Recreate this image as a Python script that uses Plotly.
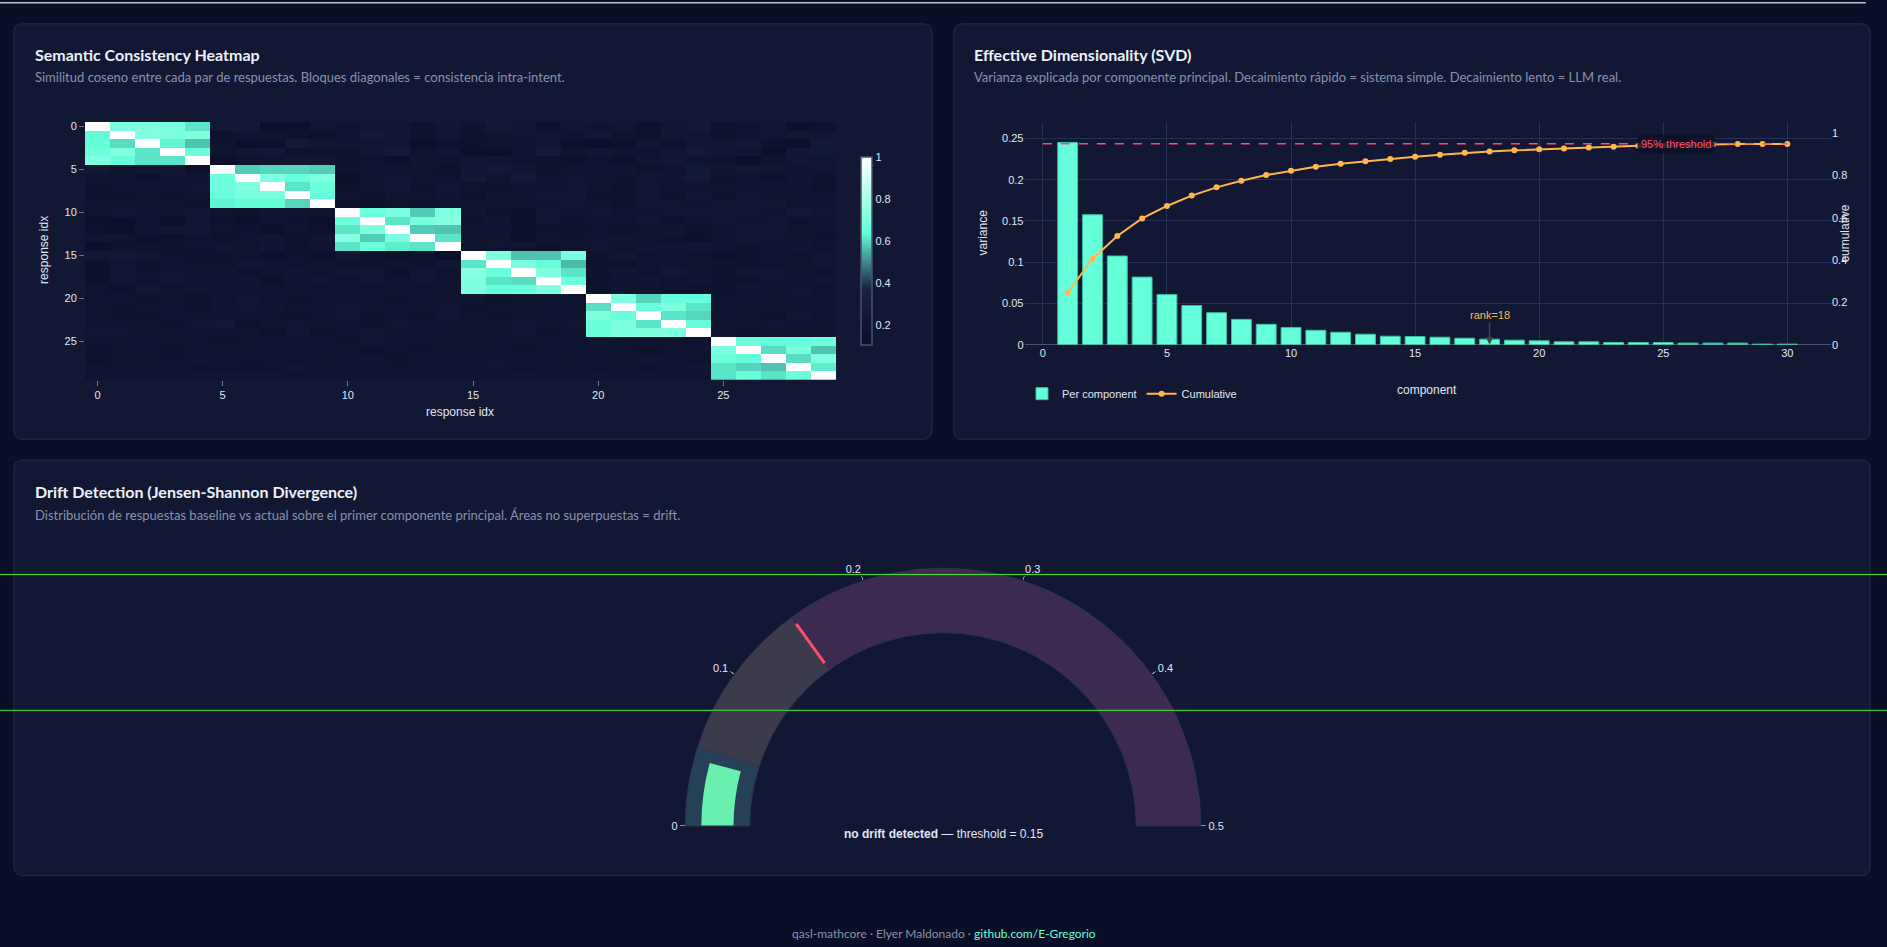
import plotly.graph_objects as go

W, H = 1887, 947


def px(x):
    return x / W


def py(y):
    return 1 - y / H


# ---------------- data ----------------
resp_idx = list(range(30))
heat_ticks = [0, 5, 10, 15, 20, 25]

similarity = [
    [1.0, .70, .70, .69, .61, .24, .25, .13, .14, .20, .19, .22, .20, .16, .22, .17, .24, .21, .15, .22, .19, .20, .15, .22, .24, .16, .17, .22, .14, .16],
    [.64, 1.0, .71, .69, .71, .16, .19, .17, .15, .14, .21, .24, .22, .18, .21, .16, .17, .21, .20, .19, .23, .16, .15, .22, .20, .16, .18, .21, .23, .22],
    [.64, .60, 1.0, .63, .57, .17, .13, .14, .24, .20, .19, .21, .22, .13, .16, .15, .18, .19, .22, .15, .13, .14, .20, .16, .22, .22, .23, .15, .14, .24],
    [.66, .71, .61, 1.0, .66, .18, .21, .23, .16, .15, .16, .22, .25, .17, .21, .14, .13, .18, .25, .17, .22, .19, .18, .22, .24, .21, .20, .13, .23, .24],
    [.70, .65, .61, .61, 1.0, .13, .16, .18, .20, .21, .15, .17, .14, .19, .18, .20, .21, .17, .16, .15, .18, .14, .19, .22, .17, .16, .13, .17, .22, .21],
    [.23, .19, .22, .21, .14, 1.0, .58, .59, .59, .58, .16, .18, .19, .17, .15, .22, .24, .20, .16, .18, .19, .21, .16, .18, .24, .19, .22, .21, .18, .20],
    [.18, .17, .15, .20, .19, .66, 1.0, .70, .66, .71, .13, .20, .21, .17, .18, .24, .19, .25, .17, .20, .19, .18, .21, .20, .24, .16, .17, .15, .20, .16],
    [.16, .18, .21, .18, .20, .67, .70, 1.0, .61, .66, .15, .17, .22, .16, .20, .17, .16, .21, .18, .20, .17, .15, .20, .18, .19, .17, .18, .21, .18, .15],
    [.15, .16, .18, .16, .20, .65, .69, .69, 1.0, .64, .19, .15, .21, .18, .20, .15, .21, .17, .22, .20, .16, .15, .21, .16, .22, .16, .20, .17, .19, .18],
    [.19, .18, .17, .18, .16, .63, .64, .64, .59, 1.0, .16, .14, .17, .16, .18, .18, .17, .19, .19, .20, .17, .15, .20, .21, .18, .21, .20, .22, .17, .18],
    [.17, .20, .19, .17, .22, .18, .16, .19, .18, .17, 1.0, .66, .69, .58, .70, .19, .15, .13, .20, .18, .21, .18, .19, .21, .20, .22, .21, .19, .23, .20],
    [.14, .13, .18, .13, .21, .15, .13, .18, .16, .13, .67, 1.0, .61, .69, .72, .16, .21, .14, .22, .16, .19, .17, .21, .15, .19, .21, .17, .21, .16, .18],
    [.15, .13, .18, .20, .22, .17, .18, .13, .17, .15, .61, .70, 1.0, .58, .57, .20, .18, .14, .16, .15, .18, .16, .17, .21, .16, .19, .22, .20, .17, .19],
    [.20, .19, .14, .14, .17, .15, .18, .19, .16, .21, .72, .58, .69, 1.0, .61, .17, .20, .13, .19, .17, .20, .21, .18, .16, .14, .19, .22, .20, .19, .16],
    [.13, .16, .17, .16, .18, .19, .17, .20, .16, .19, .61, .65, .62, .61, 1.0, .18, .20, .19, .14, .17, .20, .17, .20, .21, .21, .20, .16, .19, .21, .18],
    [.22, .23, .21, .17, .16, .16, .18, .15, .17, .14, .20, .16, .15, .16, .13, 1.0, .70, .57, .57, .69, .18, .20, .17, .19, .18, .15, .18, .19, .18, .20],
    [.15, .21, .16, .19, .18, .17, .20, .19, .18, .18, .17, .17, .17, .18, .20, .61, 1.0, .69, .65, .56, .16, .15, .18, .19, .17, .17, .16, .18, .17, .20],
    [.14, .22, .18, .20, .17, .19, .16, .18, .20, .17, .20, .20, .15, .21, .18, .72, .66, 1.0, .70, .61, .17, .20, .18, .22, .19, .16, .21, .20, .18, .17],
    [.15, .21, .19, .21, .19, .18, .20, .15, .19, .20, .18, .21, .18, .20, .19, .70, .61, .60, 1.0, .66, .16, .19, .20, .18, .20, .18, .17, .21, .19, .20],
    [.17, .15, .22, .18, .19, .18, .19, .18, .17, .18, .17, .18, .19, .18, .17, .71, .65, .65, .71, 1.0, .17, .19, .19, .18, .17, .16, .20, .19, .21, .18],
    [.18, .19, .16, .17, .15, .18, .20, .18, .16, .18, .19, .18, .16, .19, .17, .21, .16, .17, .18, .20, 1.0, .70, .59, .65, .65, .19, .18, .17, .20, .19],
    [.18, .16, .17, .20, .16, .20, .21, .20, .18, .19, .21, .19, .18, .19, .20, .16, .18, .17, .19, .18, .60, 1.0, .66, .70, .61, .19, .17, .20, .17, .19],
    [.17, .16, .16, .18, .17, .18, .19, .17, .16, .19, .21, .16, .18, .16, .20, .18, .16, .17, .18, .19, .70, .65, 1.0, .61, .59, .18, .19, .16, .20, .18],
    [.18, .18, .17, .16, .21, .23, .15, .19, .21, .17, .18, .16, .20, .18, .17, .19, .17, .21, .18, .20, .66, .70, .61, 1.0, .65, .18, .17, .20, .18, .19],
    [.20, .20, .17, .18, .19, .18, .17, .15, .20, .16, .18, .21, .17, .19, .18, .17, .19, .20, .16, .19, .66, .70, .71, .70, 1.0, .17, .16, .19, .18, .17],
    [.18, .17, .19, .17, .18, .16, .17, .18, .19, .19, .16, .20, .18, .18, .17, .17, .18, .17, .19, .18, .19, .17, .19, .18, .16, 1.0, .66, .64, .65, .66],
    [.16, .18, .18, .15, .19, .18, .17, .20, .20, .19, .17, .15, .18, .16, .17, .18, .17, .16, .19, .18, .18, .17, .15, .18, .19, .70, 1.0, .60, .69, .57],
    [.15, .17, .17, .18, .20, .19, .18, .18, .18, .17, .18, .19, .16, .19, .18, .19, .20, .18, .18, .17, .18, .17, .20, .19, .18, .66, .64, 1.0, .60, .70],
    [.17, .17, .18, .19, .17, .17, .16, .18, .20, .18, .19, .17, .18, .19, .18, .17, .20, .17, .19, .18, .18, .19, .17, .18, .20, .61, .59, .57, 1.0, .62],
    [.18, .19, .18, .19, .20, .20, .19, .20, .18, .19, .19, .19, .18, .20, .19, .18, .19, .20, .18, .19, .20, .19, .20, .18, .19, .61, .66, .61, .66, 1.0],
]

components = list(range(1, 31))
variance = [0.2452, 0.1576, 0.1076, 0.0820, 0.0608, 0.0476, 0.0388, 0.0308, 0.0248, 0.0208,
            0.0176, 0.0152, 0.0128, 0.0104, 0.0100, 0.0092, 0.0080, 0.0068, 0.0056, 0.0048,
            0.0036, 0.0036, 0.0028, 0.0028, 0.0028, 0.0020, 0.0020, 0.0020, 0.0008, 0.0008]
cumulative = [0.246, 0.406, 0.514, 0.597, 0.656, 0.705, 0.744, 0.775, 0.802, 0.822,
              0.841, 0.855, 0.867, 0.878, 0.889, 0.898, 0.907, 0.914, 0.919, 0.924,
              0.928, 0.932, 0.936, 0.941, 0.942, 0.945, 0.947, 0.949, 0.949, 0.949]
var_threshold = 0.95
effective_rank = 18

js_divergence = 0.042
js_threshold = 0.15
gauge_bands = [0, 0.05, 0.15, 0.5]
gauge_ticks = [0, 0.1, 0.2, 0.3, 0.4, 0.5]

# ---------------- style ----------------
PAGE = "#0a0e27"
PANEL = "#121833"
BORDER = "#232c4e"
GRID = "#262f55"
TXT = "#e0e6f5"
SUB = "#8892b0"
TEAL = "#64ffda"
ORANGE = "#ffb74d"
RED = "#ff4d6d"
CHART_FONT = "Arial, 'Liberation Sans', sans-serif"
HTML_FONT = "Lato, 'Noto Sans', sans-serif"


def rounded_rect(x0, y0, x1, y1, r=9):
    X = lambda v: f"{px(v):.6f}"
    Y = lambda v: f"{py(v):.6f}"
    pts = [
        f"M {X(x0 + r)},{Y(y0)}",
        f"L {X(x1 - r)},{Y(y0)}",
        f"Q {X(x1)},{Y(y0)} {X(x1)},{Y(y0 + r)}",
        f"L {X(x1)},{Y(y1 - r)}",
        f"Q {X(x1)},{Y(y1)} {X(x1 - r)},{Y(y1)}",
        f"L {X(x0 + r)},{Y(y1)}",
        f"Q {X(x0)},{Y(y1)} {X(x0)},{Y(y1 - r)}",
        f"L {X(x0)},{Y(y0 + r)}",
        f"Q {X(x0)},{Y(y0)} {X(x0 + r)},{Y(y0)} Z",
    ]
    return " ".join(pts)


fig = go.Figure()

# Heatmap
fig.add_trace(go.Heatmap(
    z=similarity, x=resp_idx, y=resp_idx,
    colorscale=[[0, "#0a0e27"], [0.3, "#1a2342"], [0.6, TEAL], [1, "#ffffff"]],
    zmin=0.105, zmax=1,
    xaxis="x", yaxis="y",
    colorbar=dict(
        x=px(861), xanchor="left", y=py(251), yanchor="middle",
        len=188, lenmode="pixels", thickness=11, xpad=0, ypad=0,
        outlinewidth=1.5, outlinecolor="#4b5268",
        tickvals=[0.2, 0.4, 0.6, 0.8, 1], ticks="",
        tickfont=dict(size=11, color=TXT, family=CHART_FONT),
    ),
))

# SVD bars + cumulative
fig.add_trace(go.Bar(
    x=components, y=variance, name="Per component", width=0.8,
    marker=dict(color=TEAL, line=dict(color="#3fbf9f", width=1)),
    xaxis="x2", yaxis="y2",
))
fig.add_trace(go.Scatter(
    x=components, y=cumulative, name="Cumulative", mode="lines+markers",
    line=dict(color=ORANGE, width=2), marker=dict(size=6, color=ORANGE),
    xaxis="x2", yaxis="y3",
))

# Gauge
fig.add_trace(go.Indicator(
    mode="gauge", value=js_divergence,
    domain=dict(x=[px(643), px(1243)], y=[py(831), py(571)]),
    gauge=dict(
        shape="angular",
        axis=dict(range=[gauge_bands[0], gauge_bands[-1]], tickvals=gauge_ticks,
                  tickfont=dict(size=11, color=TXT, family=CHART_FONT),
                  tickcolor="#8892b0", ticklen=5, tickwidth=1),
        bar=dict(color="#69f0ae", thickness=0.5),
        bgcolor="rgba(0,0,0,0)", borderwidth=1, bordercolor="#2a3356",
        steps=[
            dict(range=[gauge_bands[0], gauge_bands[1]], color="#264057"),
            dict(range=[gauge_bands[1], gauge_bands[2]], color="#3c3a4d"),
            dict(range=[gauge_bands[2], gauge_bands[3]], color="#3c2a50"),
        ],
        threshold=dict(line=dict(color=RED, width=3), thickness=0.75, value=js_threshold),
    ),
))

shapes = [
    dict(type="path", path=rounded_rect(14, 22, 932, 441), xref="paper", yref="paper",
         fillcolor=PANEL, line=dict(color=BORDER, width=1), layer="below"),
    dict(type="path", path=rounded_rect(954, 22, 1870, 441), xref="paper", yref="paper",
         fillcolor=PANEL, line=dict(color=BORDER, width=1), layer="below"),
    dict(type="path", path=rounded_rect(14, 462, 1870, 881), xref="paper", yref="paper",
         fillcolor=PANEL, line=dict(color=BORDER, width=1), layer="below"),
    # 95% threshold line
    dict(type="line", xref="x2", yref="y3", x0=0, x1=30, y0=var_threshold, y1=var_threshold,
         line=dict(color=RED, width=1.5, dash="dash"), layer="above"),
    # overlay guide lines present in the reference
    dict(type="line", xref="paper", yref="paper", x0=0, x1=1, y0=py(577.3), y1=py(577.3),
         line=dict(color="#44ee22", width=1), layer="above"),
    dict(type="line", xref="paper", yref="paper", x0=0, x1=1, y0=py(714.3), y1=py(714.3),
         line=dict(color="#44ee22", width=1), layer="above"),
    dict(type="line", xref="paper", yref="paper", x0=0, x1=px(1866), y0=py(0.8), y1=py(0.8),
         line=dict(color="#b9bdc9", width=1.5), layer="above"),
]


def txt(x, y, text, size, color, bold=False, anchor="left", angle=0, family=HTML_FONT):
    return dict(x=px(x), y=py(y), xref="paper", yref="paper", text=text, showarrow=False,
                xanchor=anchor, yanchor="middle", textangle=angle,
                font=dict(size=size, color=color, family=family,
                          weight="bold" if bold else "normal"))


annotations = [
    txt(33, 53, "Semantic Consistency Heatmap", 16, "#eef1fa", bold=True),
    txt(33, 76, "Similitud coseno entre cada par de respuestas. Bloques diagonales = consistencia intra-intent.", 13, SUB),
    txt(972, 53, "Effective Dimensionality (SVD)", 16, "#eef1fa", bold=True),
    txt(972, 76, "Varianza explicada por componente principal. Decaimiento rápido = sistema simple. Decaimiento lento = LLM real.", 13, SUB),
    txt(33, 494, "Drift Detection (Jensen-Shannon Divergence)", 16, "#eef1fa", bold=True),
    txt(33, 517, "Distribución de respuestas baseline vs actual sobre el primer componente principal. Áreas no superpuestas = drift.", 13, SUB),
    # axis titles
    txt(460, 413, "response idx", 12, TXT, anchor="center", family=CHART_FONT),
    txt(44, 250, "response idx", 12, TXT, anchor="center", angle=-90, family=CHART_FONT),
    txt(1427, 391, "component", 12, TXT, anchor="center", family=CHART_FONT),
    txt(983.5, 233, "variance", 12, TXT, anchor="center", angle=-90, family=CHART_FONT),
    txt(1845, 233, "cumulative", 12, TXT, anchor="center", angle=-90, family=CHART_FONT),
    # gauge caption
    txt(943, 839, "<b>no drift detected</b> — threshold = 0.15", 12, TXT, anchor="center", family=CHART_FONT),
    # footer
    txt(943.5, 939, f"qasl-mathcore · Elyer Maldonado · <span style='color:{TEAL}'>github.com/E-Gregorio</span>",
        12, SUB, anchor="center"),
    # SVD annotations
    dict(x=25.5, y=var_threshold, xref="x2", yref="y3", text="95% threshold", showarrow=False,
         font=dict(size=11, color=RED, family=CHART_FONT), bgcolor="rgba(12,16,40,0.85)", borderpad=3),
    dict(x=effective_rank, y=0, xref="x2", yref="y2", text=f"rank={effective_rank}", showarrow=True,
         arrowhead=2, arrowsize=1, arrowwidth=1.5, arrowcolor="#444444", ax=0, ay=-30,
         font=dict(size=11, color=ORANGE, family=CHART_FONT)),
]

fig.update_layout(
    width=W, height=H, autosize=False,
    margin=dict(l=0, r=0, t=0, b=0),
    paper_bgcolor=PAGE, plot_bgcolor="rgba(0,0,0,0)",
    font=dict(family=CHART_FONT, color=TXT, size=11),
    showlegend=True,
    legend=dict(orientation="h", x=px(1022), y=py(395), xanchor="left", yanchor="middle",
                font=dict(size=11, color=TXT), bgcolor="rgba(0,0,0,0)"),
    xaxis=dict(domain=[px(85), px(836)], anchor="y", range=[-0.5, 29.5], tickvals=heat_ticks,
               ticks="outside", ticklen=5, tickcolor="#6b7390", showgrid=False, zeroline=False,
               showline=False, tickfont=dict(size=11, color=TXT)),
    yaxis=dict(domain=[py(381), py(121)], anchor="x", range=[29.5, -0.5], tickvals=heat_ticks,
               ticks="outside", ticklen=5, tickcolor="#6b7390", showgrid=False, zeroline=False,
               showline=False, tickfont=dict(size=11, color=TXT)),
    xaxis2=dict(domain=[px(1024.5), px(1831)], anchor="y2", range=[-0.74, 31.76], dtick=5,
                gridcolor=GRID, zeroline=False, showline=False, tickfont=dict(size=11, color=TXT)),
    yaxis2=dict(domain=[py(345.7), py(121)], anchor="x2", range=[0, 0.27], dtick=0.05,
                gridcolor=GRID, zeroline=True, zerolinecolor="#4a5270", zerolinewidth=1,
                showline=False, tickfont=dict(size=11, color=TXT)),
    yaxis3=dict(overlaying="y2", side="right", anchor="x2", range=[0, 1.053], dtick=0.2,
                showgrid=False, zeroline=False, showline=False, tickfont=dict(size=11, color=TXT)),
    shapes=shapes,
    annotations=annotations,
    bargap=0.2,
)

fig.write_html("out.html")
